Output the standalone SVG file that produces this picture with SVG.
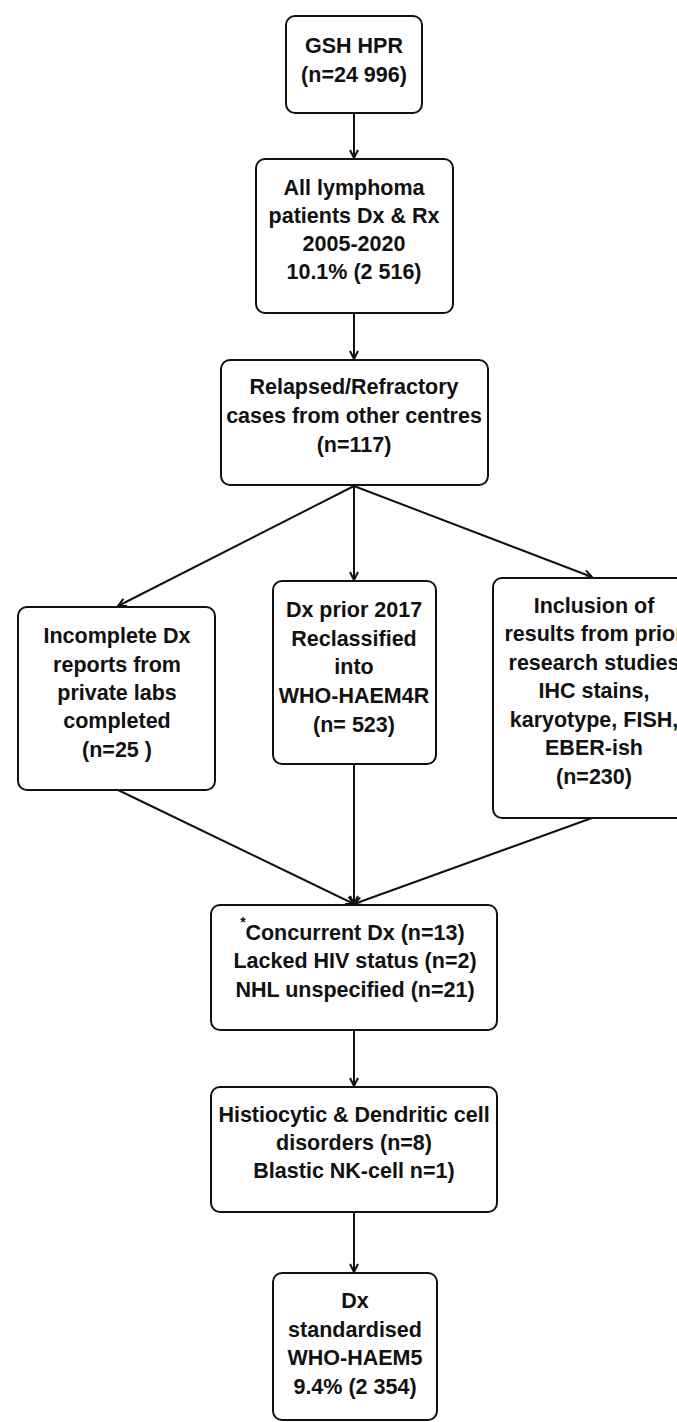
<svg xmlns="http://www.w3.org/2000/svg" width="677" height="1422" viewBox="0 0 677 1422">
<style>
.box{fill:#fff;stroke:#111;stroke-width:2}
.t{font-family:"Liberation Sans",Arial,sans-serif;font-weight:bold;font-size:21.5px;fill:#111;text-anchor:middle}
.c{fill:none;stroke:#111;stroke-width:2}
</style>
<defs>
<marker id="ah" markerUnits="userSpaceOnUse" viewBox="0 0 10 10" markerWidth="10" markerHeight="10" refX="9" refY="5" orient="auto">
<path d="M1,1 L9,5 L1,9" fill="none" stroke="#111" stroke-width="2"/>
</marker>
</defs>
<rect width="677" height="1422" fill="#fff"/>
<g id="connectors">
<line class="c" x1="354" y1="113" x2="354" y2="158" marker-end="url(#ah)"/>
<line class="c" x1="354" y1="313" x2="354" y2="359" marker-end="url(#ah)"/>
<line class="c" x1="354" y1="486" x2="118" y2="606" marker-end="url(#ah)"/>
<line class="c" x1="354" y1="486" x2="354" y2="580" marker-end="url(#ah)"/>
<line class="c" x1="354" y1="486" x2="592" y2="577" marker-end="url(#ah)"/>
<line class="c" x1="118" y1="790" x2="354" y2="904" marker-end="url(#ah)"/>
<line class="c" x1="354" y1="764" x2="354" y2="904" marker-end="url(#ah)"/>
<line class="c" x1="592" y1="818" x2="354" y2="904" marker-end="url(#ah)"/>
<line class="c" x1="354" y1="1030" x2="354" y2="1086" marker-end="url(#ah)"/>
<line class="c" x1="354" y1="1212" x2="354" y2="1272" marker-end="url(#ah)"/>
</g>
<g id="n1">
<rect class="box" x="286" y="16" width="136" height="97" rx="9"/>
<text class="t" x="354" y="53">GSH HPR</text>
<text class="t" x="354" y="82">(n=24 996)</text>
</g>
<g id="n2">
<rect class="box" x="256" y="159" width="197" height="154" rx="9"/>
<text class="t" x="354" y="195">All lymphoma</text>
<text class="t" x="354" y="223">patients Dx &amp; Rx</text>
<text class="t" x="354" y="251">2005-2020</text>
<text class="t" x="354" y="279">10.1% (2 516)</text>
</g>
<g id="n3">
<rect class="box" x="221" y="360" width="267" height="125" rx="9"/>
<text class="t" x="354" y="394">Relapsed/Refractory</text>
<text class="t" x="354" y="423">cases from other centres</text>
<text class="t" x="354" y="452">(n=117)</text>
</g>
<g id="n4">
<rect class="box" x="18" y="607" width="197" height="183" rx="9"/>
<text class="t" x="117" y="643">Incomplete Dx</text>
<text class="t" x="117" y="672">reports from</text>
<text class="t" x="117" y="700">private labs</text>
<text class="t" x="117" y="728">completed</text>
<text class="t" x="117" y="757">(n=25 )</text>
</g>
<g id="n5">
<rect class="box" x="273" y="581" width="163" height="183" rx="9"/>
<text class="t" x="354" y="617">Dx prior 2017</text>
<text class="t" x="354" y="646">Reclassified</text>
<text class="t" x="354" y="674">into</text>
<text class="t" x="354" y="703">WHO-HAEM4R</text>
<text class="t" x="354" y="732">(n= 523)</text>
</g>
<g id="n6">
<rect class="box" x="493" y="578" width="202" height="240" rx="9"/>
<text class="t" x="594" y="613">Inclusion of</text>
<text class="t" x="594" y="641">results from prior</text>
<text class="t" x="594" y="670">research studies</text>
<text class="t" x="594" y="698">IHC stains,</text>
<text class="t" x="594" y="727">karyotype, FISH,</text>
<text class="t" x="594" y="755">EBER-ish</text>
<text class="t" x="594" y="784">(n=230)</text>
</g>
<g id="n7">
<rect class="box" x="211" y="905" width="286" height="125" rx="9"/>
<text class="t" x="243" y="927" style="font-size:14px">*</text>
<text class="t" x="355" y="940">Concurrent Dx (n=13)</text>
<text class="t" x="355" y="968">Lacked HIV status (n=2)</text>
<text class="t" x="355" y="997">NHL unspecified (n=21)</text>
</g>
<g id="n8">
<rect class="box" x="211" y="1087" width="286" height="125" rx="9"/>
<text class="t" x="354" y="1122">Histiocytic &amp; Dendritic cell</text>
<text class="t" x="354" y="1150">disorders (n=8)</text>
<text class="t" x="354" y="1178">Blastic NK-cell n=1)</text>
</g>
<g id="n9">
<rect class="box" x="273" y="1273" width="164" height="147" rx="9"/>
<text class="t" x="355" y="1308">Dx</text>
<text class="t" x="355" y="1337">standardised</text>
<text class="t" x="355" y="1365">WHO-HAEM5</text>
<text class="t" x="355" y="1394">9.4% (2 354)</text>
</g>
</svg>
